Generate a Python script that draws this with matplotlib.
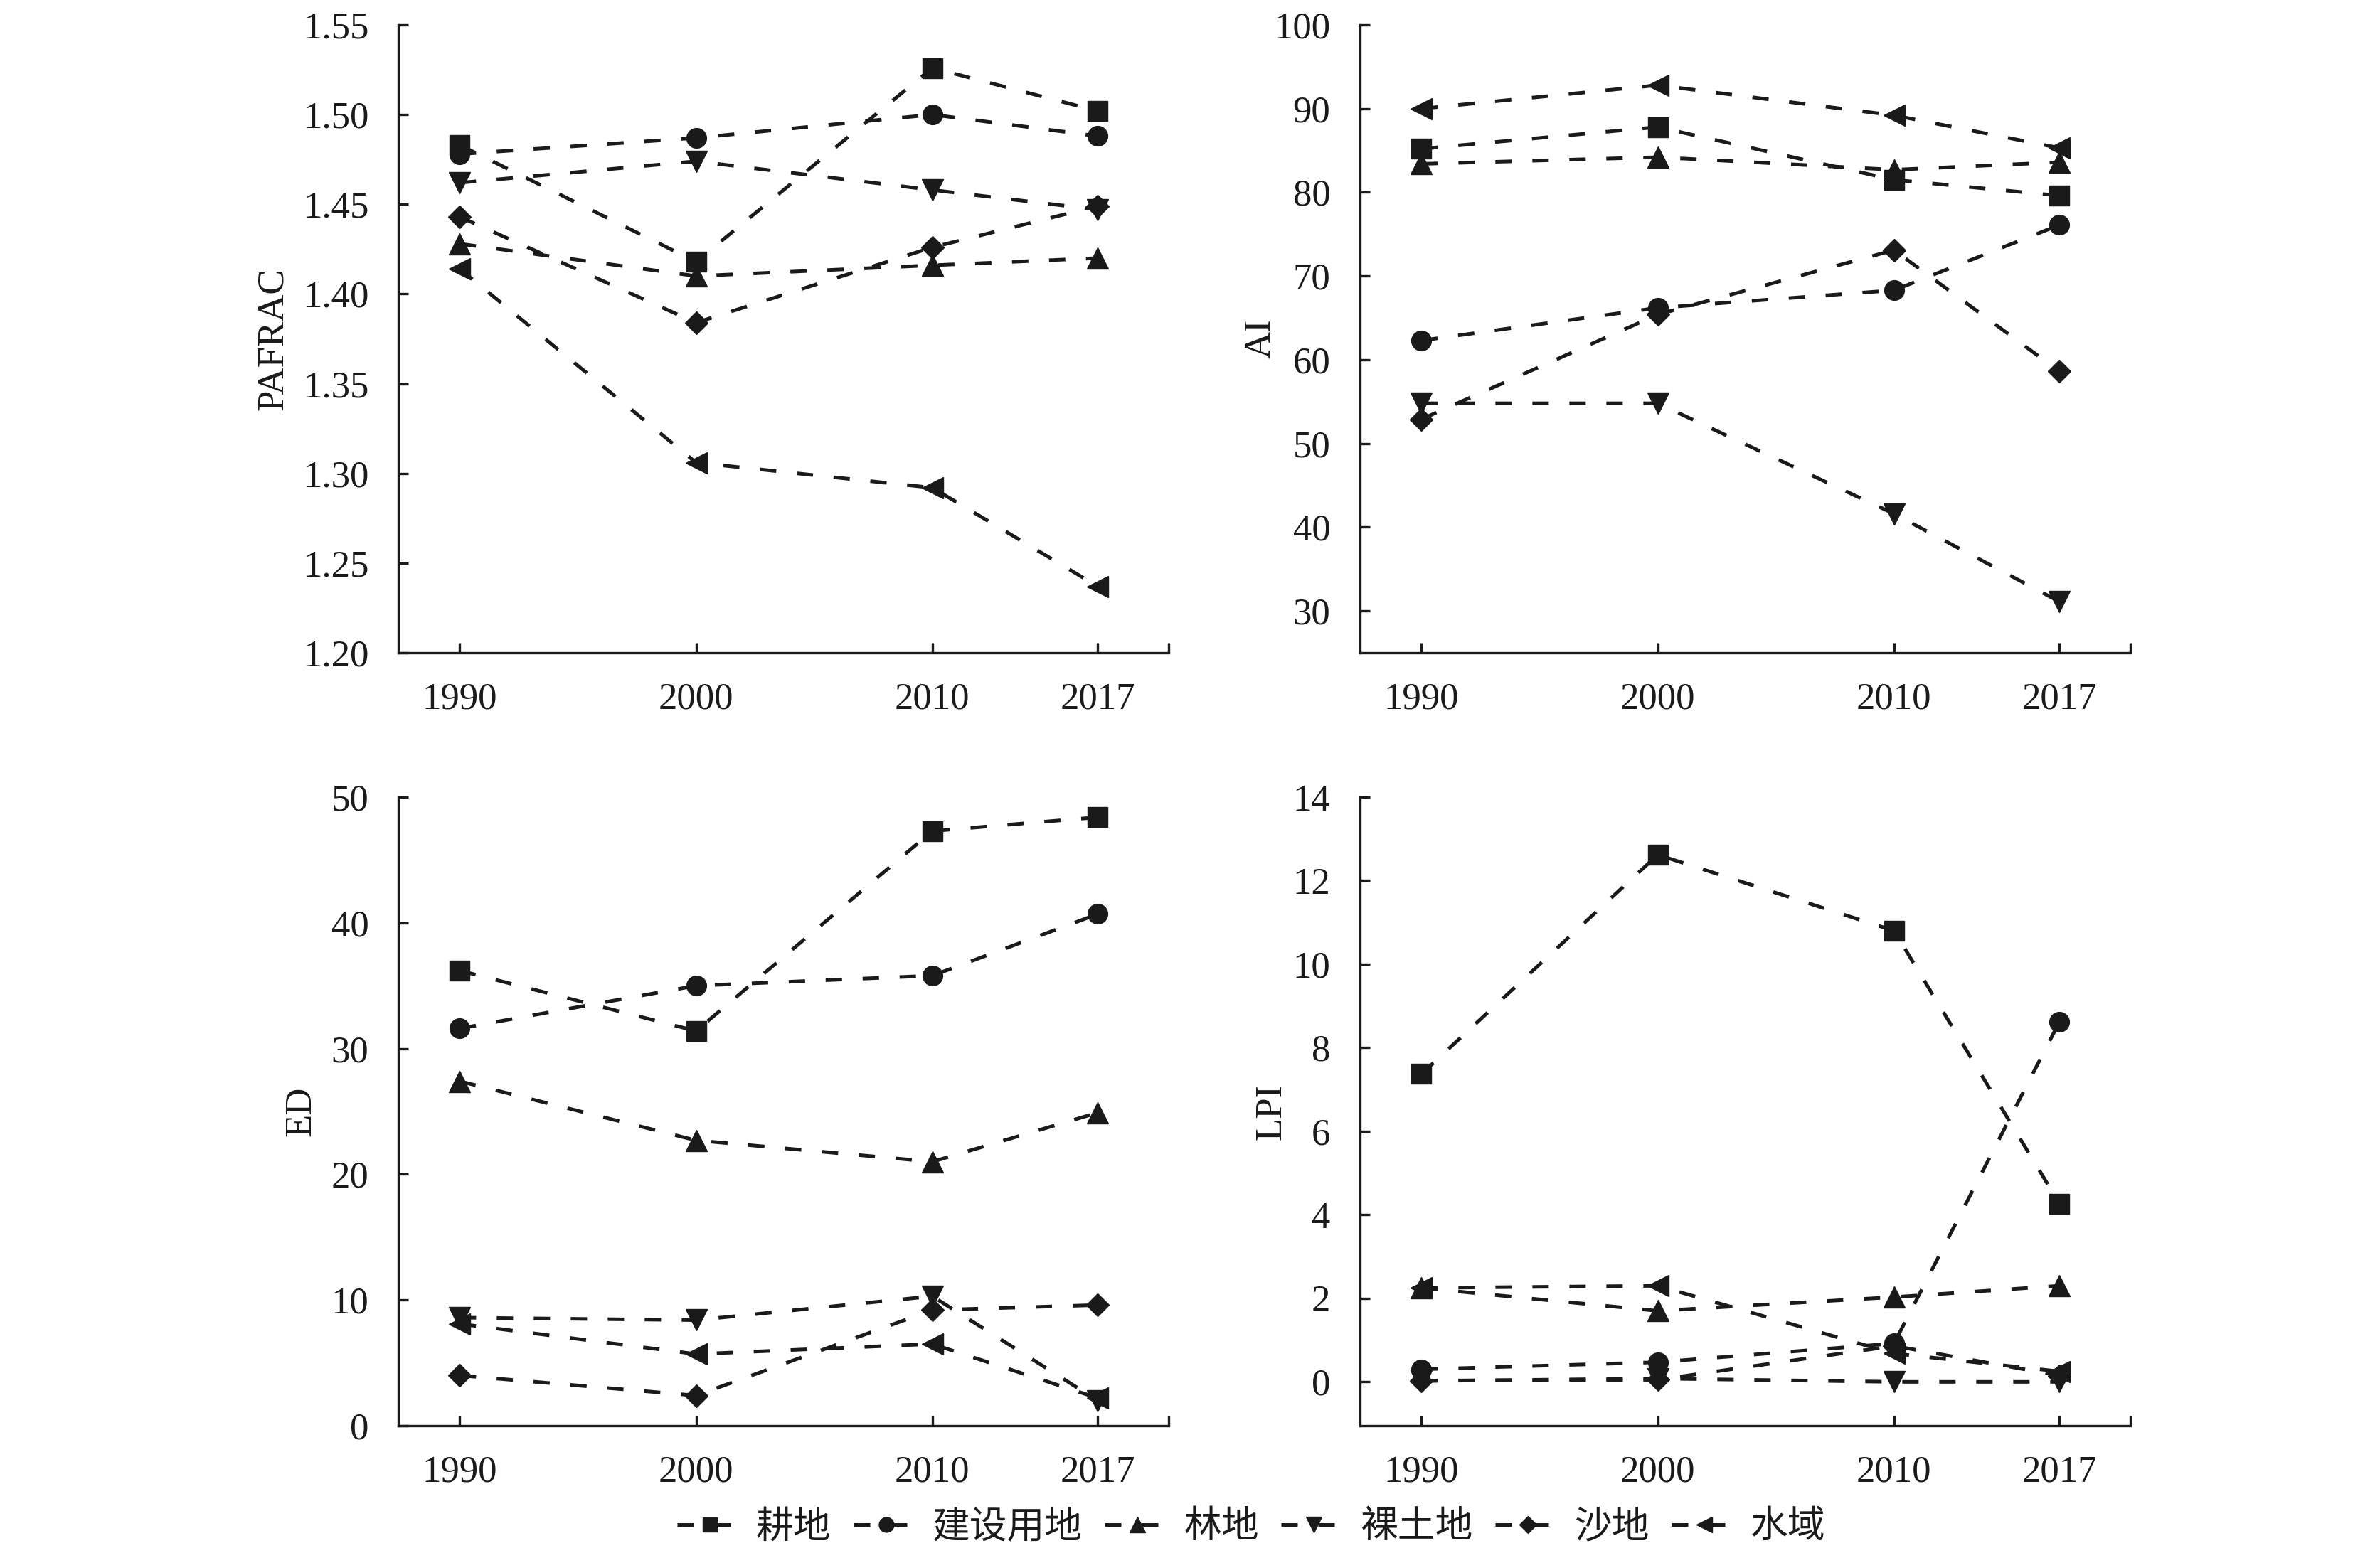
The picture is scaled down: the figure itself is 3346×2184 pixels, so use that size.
import matplotlib
matplotlib.use("Agg")
import matplotlib.pyplot as plt

years = [1990, 2000, 2010, 2017]
classes = ["耕地", "建设用地", "林地", "裸土地", "沙地", "水域"]
markers = ["s", "o", "^", "v", "D", "<"]

# PAFRAC
pafrac_gd = [1.483, 1.418, 1.526, 1.502]
pafrac_js = [1.478, 1.487, 1.500, 1.488]
pafrac_ld = [1.428, 1.410, 1.416, 1.420]
pafrac_lt = [1.462, 1.474, 1.458, 1.447]
pafrac_sd = [1.443, 1.384, 1.426, 1.449]
pafrac_sy = [1.414, 1.306, 1.292, 1.237]

# AI
ai_gd = [85.2, 87.8, 81.5, 79.6]
ai_js = [62.3, 66.2, 68.3, 76.1]
ai_ld = [83.4, 84.2, 82.7, 83.6]
ai_lt = [54.8, 54.8, 41.6, 31.1]
ai_sd = [52.9, 65.4, 73.1, 58.6]
ai_sy = [90.0, 92.8, 89.2, 85.3]

# ED
ed_gd = [36.2, 31.4, 47.3, 48.4]
ed_js = [31.6, 35.0, 35.8, 40.7]
ed_ld = [27.4, 22.7, 21.0, 24.9]
ed_lt = [8.6, 8.4, 10.3, 2.0]
ed_sd = [4.0, 2.4, 9.2, 9.6]
ed_sy = [8.1, 5.7, 6.5, 2.2]

# LPI
lpi_gd = [7.37, 12.62, 10.8, 4.27]
lpi_js = [0.30, 0.47, 0.92, 8.62]
lpi_ld = [2.25, 1.70, 2.03, 2.30]
lpi_lt = [0.02, 0.08, 0.0, 0.0]
lpi_sd = [0.03, 0.05, 0.86, 0.15]
lpi_sy = [2.25, 2.30, 0.68, 0.25]

panels = [
    ("PAFRAC", [pafrac_gd, pafrac_js, pafrac_ld, pafrac_lt, pafrac_sd, pafrac_sy],
     (1.20, 1.55), [1.20, 1.25, 1.30, 1.35, 1.40, 1.45, 1.50, 1.55], "{:.2f}"),
    ("AI", [ai_gd, ai_js, ai_ld, ai_lt, ai_sd, ai_sy],
     (25, 100), [30, 40, 50, 60, 70, 80, 90, 100], "{:d}"),
    ("ED", [ed_gd, ed_js, ed_ld, ed_lt, ed_sd, ed_sy],
     (0, 50), [0, 10, 20, 30, 40, 50], "{:d}"),
    ("LPI", [lpi_gd, lpi_js, lpi_ld, lpi_lt, lpi_sd, lpi_sy],
     (-1.05, 14), [0, 2, 4, 6, 8, 10, 12, 14], "{:d}"),
]

W, H = 3346, 2184
fig = plt.figure(figsize=(W / 100, H / 100), dpi=100)
fig.patch.set_facecolor("white")

# axes boxes in pixels: left, bottom(from top), top(from top)
boxes = [(560, 918, 35), (1912, 918, 35), (560, 2005, 1121), (1912, 2005, 1121)]
label_x = [-0.163, -0.129, -0.126, -0.115]
axw = 1083

serif = "Liberation Serif"
handles = []
for i, (name, series, ylim, yticks, fmt) in enumerate(panels):
    l, b, t = boxes[i]
    ax = fig.add_axes([l / W, 1 - b / H, axw / W, (b - t) / H])
    for j, vals in enumerate(series):
        ms = 16 if markers[j] == "D" else (21 if markers[j] in "^v<" else 20)
        ln, = ax.plot(years, vals, color="#1a1a1a", lw=3.6, linestyle=(0, (4.6, 5.8)),
                      marker=markers[j], markersize=ms, label=classes[j])
        if i == 0:
            handles.append(ln)
    ax.set_xlim(1987.4, 2020)
    ax.set_ylim(*ylim)
    ax.set_xticks(years)
    ax.set_xticks([2020], minor=True)
    ax.set_yticks(yticks)
    ax.set_yticklabels([fmt.format(v) for v in yticks])
    ax.set_xticklabels([str(y) for y in years])
    for side in ["top", "right"]:
        ax.spines[side].set_visible(False)
    for side in ["left", "bottom"]:
        ax.spines[side].set_linewidth(2.4)
        ax.spines[side].set_color("#1a1a1a")
    ax.tick_params(which="both", direction="in", length=10, width=2.4, color="#1a1a1a",
                   labelsize=38, pad=30, labelcolor="#1a1a1a")
    for lab in ax.get_xticklabels() + ax.get_yticklabels():
        lab.set_fontfamily(serif)
    ax.set_ylabel(name, fontsize=38, fontfamily=serif, color="#1a1a1a", va="center")
    ax.yaxis.set_label_coords(label_x[i], 0.5)

leg = fig.legend(handles=handles, labels=classes, loc="center", ncol=6,
                 bbox_to_anchor=(0.5257, 0.017), frameon=False,
                 prop={"family": "Noto Sans CJK SC", "size": 38},
                 handlelength=1.75, handletextpad=0.35, columnspacing=0.6,
                 markerscale=0.75)
for txt in leg.get_texts():
    txt.set_color("#1a1a1a")

fig.savefig("out.png", dpi=100, facecolor="white")
